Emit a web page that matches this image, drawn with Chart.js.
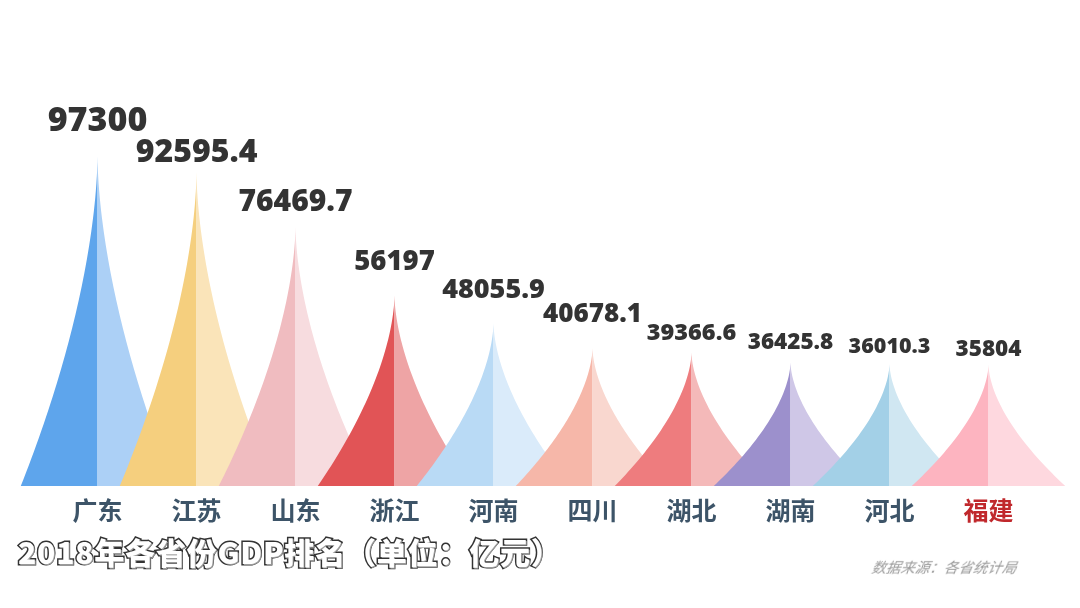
<!DOCTYPE html>
<html>
<head>
<meta charset="utf-8">
<script src="https://cdn.jsdelivr.net/npm/chart.js@4/dist/chart.umd.min.js"></script>
<style>
  html, body { margin: 0; padding: 0; background: #ffffff; }
  #wrap { position: relative; width: 1080px; height: 608px; overflow: hidden; background: #fff; }
  #chart { position: absolute; left: 0; top: 0; }
  #title {
    position: absolute; left: 18px; top: 529px; white-space: nowrap;
    font-family: "Noto Sans CJK SC", sans-serif; font-weight: 900; font-size: 30px;
    color: #ffffff; -webkit-text-stroke: 3px #333333; paint-order: stroke fill;
    letter-spacing: 0.8px;
    text-shadow: 1px 1px 0 #9a9a9a;
  }
  #source {
    position: absolute; left: 872px; top: 556px; white-space: nowrap;
    font-family: "Noto Sans CJK SC", sans-serif; font-size: 14.5px; font-style: italic;
    color: #9a9a9a; transform: skewX(-10deg);
  }
</style>
</head>
<body>
<div id="wrap">
  <canvas id="chart" width="1080" height="608"></canvas>
  <div id="title">2018年各省份GDP排名（单位：亿元）</div>
  <div id="source">数据来源：各省统计局</div>
</div>
<script>
const categories = ['广东', '江苏', '山东', '浙江', '河南', '四川', '湖北', '湖南', '河北', '福建'];
const gdpValues = [97300, 92595.4, 76469.7, 56197, 48055.9, 40678.1, 39366.6, 36425.8, 36010.3, 35804];
const valueLabels = ['97300', '92595.4', '76469.7', '56197', '48055.9', '40678.1', '39366.6', '36425.8', '36010.3', '35804'];

// styles
const darkColors  = ['#5ea5ec', '#f5cf7e', '#f0bcc0', '#e15456', '#b9daf5', '#f6b7a9', '#ee7c7e', '#9c90cc', '#a3d0e7', '#fdb4c0'];
const lightColors = ['#acd0f6', '#fae4b9', '#f7dcdf', '#eea4a5', '#daebfa', '#f9d7cf', '#f4b9b9', '#cfc7e7', '#d0e7f2', '#fed8df'];
const tickColors  = ['#3d5468', '#3d5468', '#3d5468', '#3d5468', '#3d5468', '#3d5468', '#3d5468', '#3d5468', '#3d5468', '#c0282c'];
const labelSizes  = [34, 32, 30, 27.5, 27, 26, 23.5, 22.5, 21.5, 22.5];
const labelGaps   = [25, 10, 16, 25, 25, 26, 13, 14, 11, 9];

const spikePlugin = {
  id: 'spikes',
  afterDatasetsDraw(chart) {
    const ctx = chart.ctx;
    const meta = chart.getDatasetMeta(0);
    const N = 48;
    ctx.save();
    meta.data.forEach((el, i) => {
      const cx = el.x, top = el.y, base = el.base, hw = el.width / 2;
      const h = base - top;
      [-1, 1].forEach(dir => {
        ctx.beginPath();
        ctx.moveTo(cx, top);
        for (let k = 1; k <= N; k++) {
          const t = k / N;
          ctx.lineTo(cx + dir * hw * Math.pow(t, 1.7), top + h * t);
        }
        ctx.lineTo(cx, base);
        ctx.closePath();
        ctx.fillStyle = dir < 0 ? darkColors[i] : lightColors[i];
        ctx.fill();
      });
    });
    ctx.textAlign = 'center';
    ctx.textBaseline = 'alphabetic';
    ctx.fillStyle = '#333333';
    meta.data.forEach((el, i) => {
      ctx.font = '800 ' + labelSizes[i] + 'px "Open Sans", sans-serif';
      ctx.fillText(valueLabels[i], el.x, el.y - labelGaps[i]);
    });
    ctx.restore();
  }
};

new Chart(document.getElementById('chart'), {
  type: 'bar',
  data: {
    labels: categories,
    datasets: [{
      data: gdpValues,
      backgroundColor: 'rgba(0,0,0,0)',
      borderWidth: 0,
      categoryPercentage: 1,
      barPercentage: 1.55
    }]
  },
  options: {
    responsive: false,
    animation: false,
    events: [],
    layout: { padding: { left: 48, right: 42, top: 147, bottom: 0 } },
    plugins: { legend: { display: false }, tooltip: { enabled: false } },
    scales: {
      y: { display: false, min: 0, max: 100000 },
      x: {
        grid: { display: false, drawTicks: false },
        border: { display: false },
        ticks: {
          padding: 9,
          font: { family: '"Noto Sans CJK SC", sans-serif', size: 25, weight: 'bold' },
          color: (c) => tickColors[c.index]
        },
        afterFit: (scale) => { scale.height = 122; }
      }
    }
  },
  plugins: [spikePlugin]
});
</script>
</body>
</html>
